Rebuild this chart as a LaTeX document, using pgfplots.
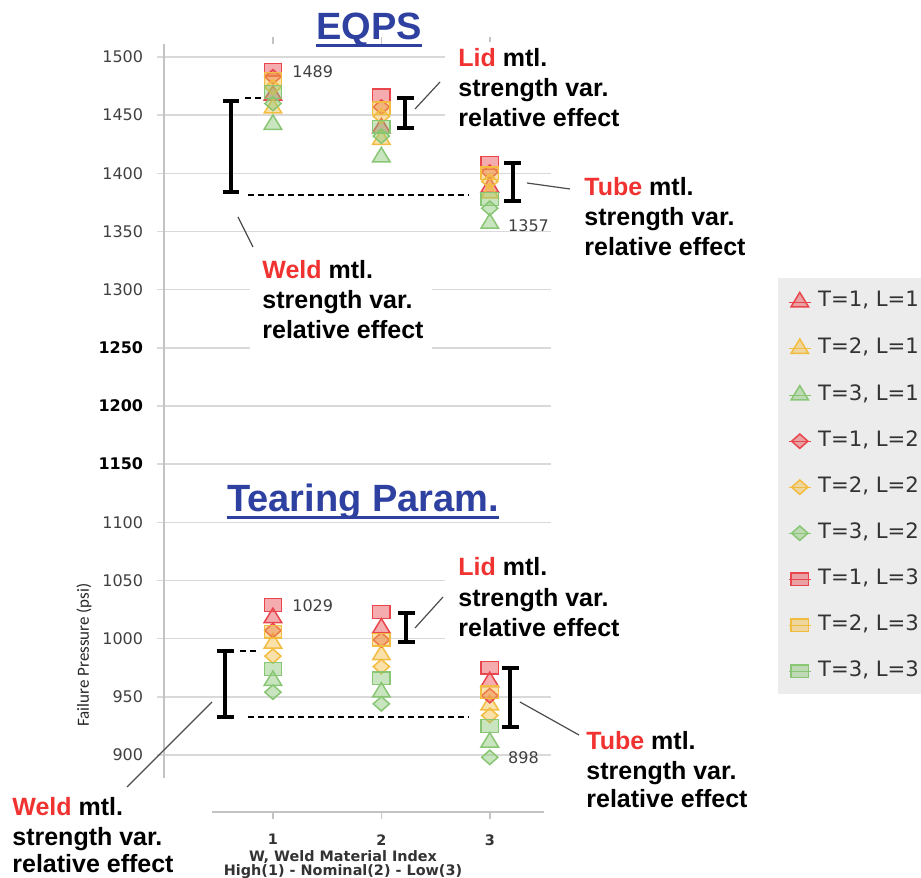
\documentclass[border=0pt]{standalone}
\usepackage{pgfplots}
\pgfplotsset{compat=1.18}
\usepackage{fontspec}
\setmainfont{Liberation Sans}
\newfontfamily\dejavu{DejaVu Sans}
\newfontfamily\carlito{Carlito}
\definecolor{cR}{RGB}{232,70,76}
\definecolor{cO}{RGB}{242,188,64}
\definecolor{cG}{RGB}{136,198,116}
\definecolor{ttl}{RGB}{46,64,160}
\definecolor{wred}{RGB}{240,50,48}
\definecolor{gridc}{RGB}{217,217,217}
\definecolor{axc}{RGB}{195,195,195}
\definecolor{lgbg}{RGB}{236,236,236}
\pgfplotsset{
  mk/.style={only marks,
    legend image code/.code={\path (-1pt,0pt) -- (10pt,0pt); \draw[##1] plot coordinates {(4.5pt,0pt)};}},
  mtri/.style={mk, mark=triangle*, mark size=4.8pt, mark options={xscale=1.05, line width=0.75pt, fill opacity=0.45}},
  mdia/.style={mk, mark=diamond*, mark size=3.6pt, mark options={xscale=1.5, line width=0.75pt, fill opacity=0.45}},
  msq/.style={mk, mark=square*, mark size=3.2pt, mark options={xscale=1.35, line width=0.75pt, fill opacity=0.45}},
}
\newcommand\ibar[3]{%
  \draw[line width=2pt] (axis cs:#1,#2) -- (axis cs:#1,#3);
  \draw[line width=2pt] ([xshift=-4.2pt]axis cs:#1,#2) -- ([xshift=4.2pt]axis cs:#1,#2);
  \draw[line width=2pt] ([xshift=-4.2pt]axis cs:#1,#3) -- ([xshift=4.2pt]axis cs:#1,#3);}
\begin{document}
\begin{tikzpicture}
\tikzset{pix/.style={x=0.5pt, y=-0.5pt, shift={(-82.25pt,406pt)}}}
\path[use as bounding box, pix] (0,0) rectangle (921,878);
\begin{axis}[
  at={(0,0)}, anchor=south west,
  scale only axis, width=189.75pt, height=383.9pt,
  xmin=0, xmax=3.5, ymin=851, ymax=1511,
  axis line style={draw=none},
  clip=false,
  xtick={1,2,3}, xticklabels={1,2,3},
  ytick={900,950,1000,1050,1100,1150,1200,1250,1300,1350,1400,1450,1500},
  yticklabels={900,950,1000,1050,1100,\textbf{\color{black}1150},\textbf{\color{black}1200},\textbf{\color{black}1250},1300,1350,1400,1450,1500},
  ymajorgrids, grid style={gridc, line width=0.75pt},
  tick align=outside, major tick length=3.5pt,
  xtick style={axc, line width=0.75pt},
  ytick style={gridc, line width=0.75pt},
  xticklabel style={font=\dejavu\bfseries\fontsize{7.2}{8}\selectfont, text=black!80, inner sep=0pt, yshift=-7.5pt},
  yticklabel style={font=\dejavu\fontsize{8}{9}\selectfont, text=black!75, inner sep=0pt, xshift=-7pt},
  legend style={at={(1.6166,0.6955)}, anchor=north west, fill=lgbg, draw=none,
    inner xsep=5pt, inner ysep=7pt, row sep=14pt, column sep=3.5pt,
    font=\dejavu\fontsize{10.6}{12}\selectfont, text=black!80,
    nodes={inner sep=0pt, text height=7pt, text depth=2pt}},
  legend cell align=left,
]
\addplot[mtri, color=cR] coordinates {(1,1467)(2,1439)(3,1388)(1,1018)(2,1009)(3,963)};
\addlegendentry{T=1, L=1}
\addplot[mtri, color=cO] coordinates {(1,1456)(2,1429)(3,1383)(1,996)(2,986)(3,943)};
\addlegendentry{T=2, L=1}
\addplot[mtri, color=cG] coordinates {(1,1442)(2,1414)(3,1357)(1,964)(2,954)(3,911)};
\addlegendentry{T=3, L=1}
\addplot[mdia, color=cR] coordinates {(1,1483)(2,1457)(3,1401)(1,1007)(2,999)(3,951)};
\addlegendentry{T=1, L=2}
\addplot[mdia, color=cO] coordinates {(1,1474)(2,1449)(3,1393)(1,985)(2,976)(3,934)};
\addlegendentry{T=2, L=2}
\addplot[mdia, color=cG] coordinates {(1,1460)(2,1432)(3,1370)(1,954)(2,944)(3,898)};
\addlegendentry{T=3, L=2}
\addplot[msq, color=cR] coordinates {(1,1489)(2,1467)(3,1409)(1,1029)(2,1023)(3,975)};
\addlegendentry{T=1, L=3}
\addplot[msq, color=cO] coordinates {(1,1481)(2,1456)(3,1400)(1,1006)(2,999)(3,954)};
\addlegendentry{T=2, L=3}
\addplot[msq, color=cG] coordinates {(1,1470)(2,1440)(3,1378)(1,974)(2,966)(3,925)};
\addlegendentry{T=3, L=3}
% axis lines
\draw[axc, line width=1pt] (axis cs:0,880) -- (axis cs:0,1511);
\draw[axc, line width=0.75pt] (axis cs:0.44,851) -- (axis cs:3.5,851);
% effect bars
\ibar{0.613}{1384}{1462}
\ibar{2.22}{1439}{1465}
\ibar{3.21}{1376}{1409}
\ibar{0.56}{933}{989}
\ibar{2.23}{997}{1022}
\ibar{3.19}{924}{975}
\tikzset{dsh/.style={dash pattern=on 3pt off 2pt, line width=1pt}}
\draw[dsh] (axis cs:0.745,1464.5) -- (axis cs:0.91,1464.5);
\draw[dsh] (axis cs:0.77,1381) -- (axis cs:2.8,1381);
\draw[dsh] (axis cs:0.70,989) -- (axis cs:0.86,989);
\draw[dsh] (axis cs:0.77,933) -- (axis cs:2.8,933);
% data labels
\tikzset{dl/.style={anchor=west, inner sep=0pt, font=\dejavu\fontsize{8}{9}\selectfont, text=black!75}}
\node[dl, xshift=9.5pt, yshift=-1pt] at (axis cs:1,1489) {1489};
\node[dl, xshift=9pt, yshift=-1pt] at (axis cs:3,1357) {1357};
\node[dl, xshift=9.5pt, yshift=-0.5pt] at (axis cs:1,1029) {1029};
\node[dl, xshift=9pt] at (axis cs:3,898) {898};
\end{axis}
\begin{scope}[pix]
  \fill[white] (250,252) rectangle (432,350);
  \fill[white] (445,42) rectangle (628,135);
  \fill[white] (445,552) rectangle (628,645);
  % titles
  \node[anchor=base, inner sep=0pt, text=ttl, font=\bfseries\fontsize{19}{22}\selectfont] (t1) at (369,40) {EQPS};
  \draw[ttl, line width=1.5pt] ([yshift=-3pt]t1.base west) -- ([yshift=-3pt]t1.base east);
  \node[anchor=base, inner sep=0pt, text=ttl, font=\bfseries\fontsize{19}{22}\selectfont] (t2) at (363,512) {Tearing Param.};
  \draw[ttl, line width=1.5pt] ([yshift=-3pt]t2.base west) -- ([yshift=-3pt]t2.base east);
  % annotation texts
  \tikzset{ann/.style={anchor=base west, inner sep=0pt, font=\bfseries\fontsize{12.5}{15}\selectfont}}
  \node[ann] at (262,279) {\textcolor{wred}{Weld} mtl.};
  \node[ann] at (262,309) {strength var.};
  \node[ann] at (262,339) {relative effect};
  \node[ann] at (458,67) {\textcolor{wred}{Lid} mtl.};
  \node[ann] at (458,97) {strength var.};
  \node[ann] at (458,127) {relative effect};
  \node[ann] at (584,196) {\textcolor{wred}{Tube} mtl.};
  \node[ann] at (584,226) {strength var.};
  \node[ann] at (584,256) {relative effect};
  \node[ann] at (12,816) {\textcolor{wred}{Weld} mtl.};
  \node[ann] at (12,845) {strength var.};
  \node[ann] at (12,873) {relative effect};
  \node[ann] at (458,576) {\textcolor{wred}{Lid} mtl.};
  \node[ann] at (458,607) {strength var.};
  \node[ann] at (458,637) {relative effect};
  \node[ann] at (586,750) {\textcolor{wred}{Tube} mtl.};
  \node[ann] at (586,780) {strength var.};
  \node[ann] at (586,808) {relative effect};
  % leader lines
  \draw[black!70, line width=0.6pt] (238,217) -- (253,247);
  \draw[black!70, line width=0.6pt] (415,109) -- (440,82);
  \draw[black!70, line width=0.6pt] (527,183) -- (570,189);
  \draw[black!70, line width=0.6pt] (212,702) -- (127,787);
  \draw[black!70, line width=0.6pt] (415,628) -- (443,597);
  \draw[black!70, line width=0.6pt] (520,702) -- (579,735);
  % axis titles
  \node[anchor=base, inner sep=0pt, font=\dejavu\bfseries\fontsize{7.2}{8}\selectfont, text=black!80] at (343,861.5) {W, Weld Material Index};
  \node[anchor=base, inner sep=0pt, font=\dejavu\bfseries\fontsize{7.2}{8}\selectfont, text=black!80] at (343,875.5) {High(1) - Nominal(2) - Low(3)};
  \node[rotate=90, inner sep=0pt, font=\carlito\fontsize{8.5}{10}\selectfont, text=black!85] at (84,655) {Failure Pressure (psi)};
\end{scope}
\end{tikzpicture}
\end{document}
